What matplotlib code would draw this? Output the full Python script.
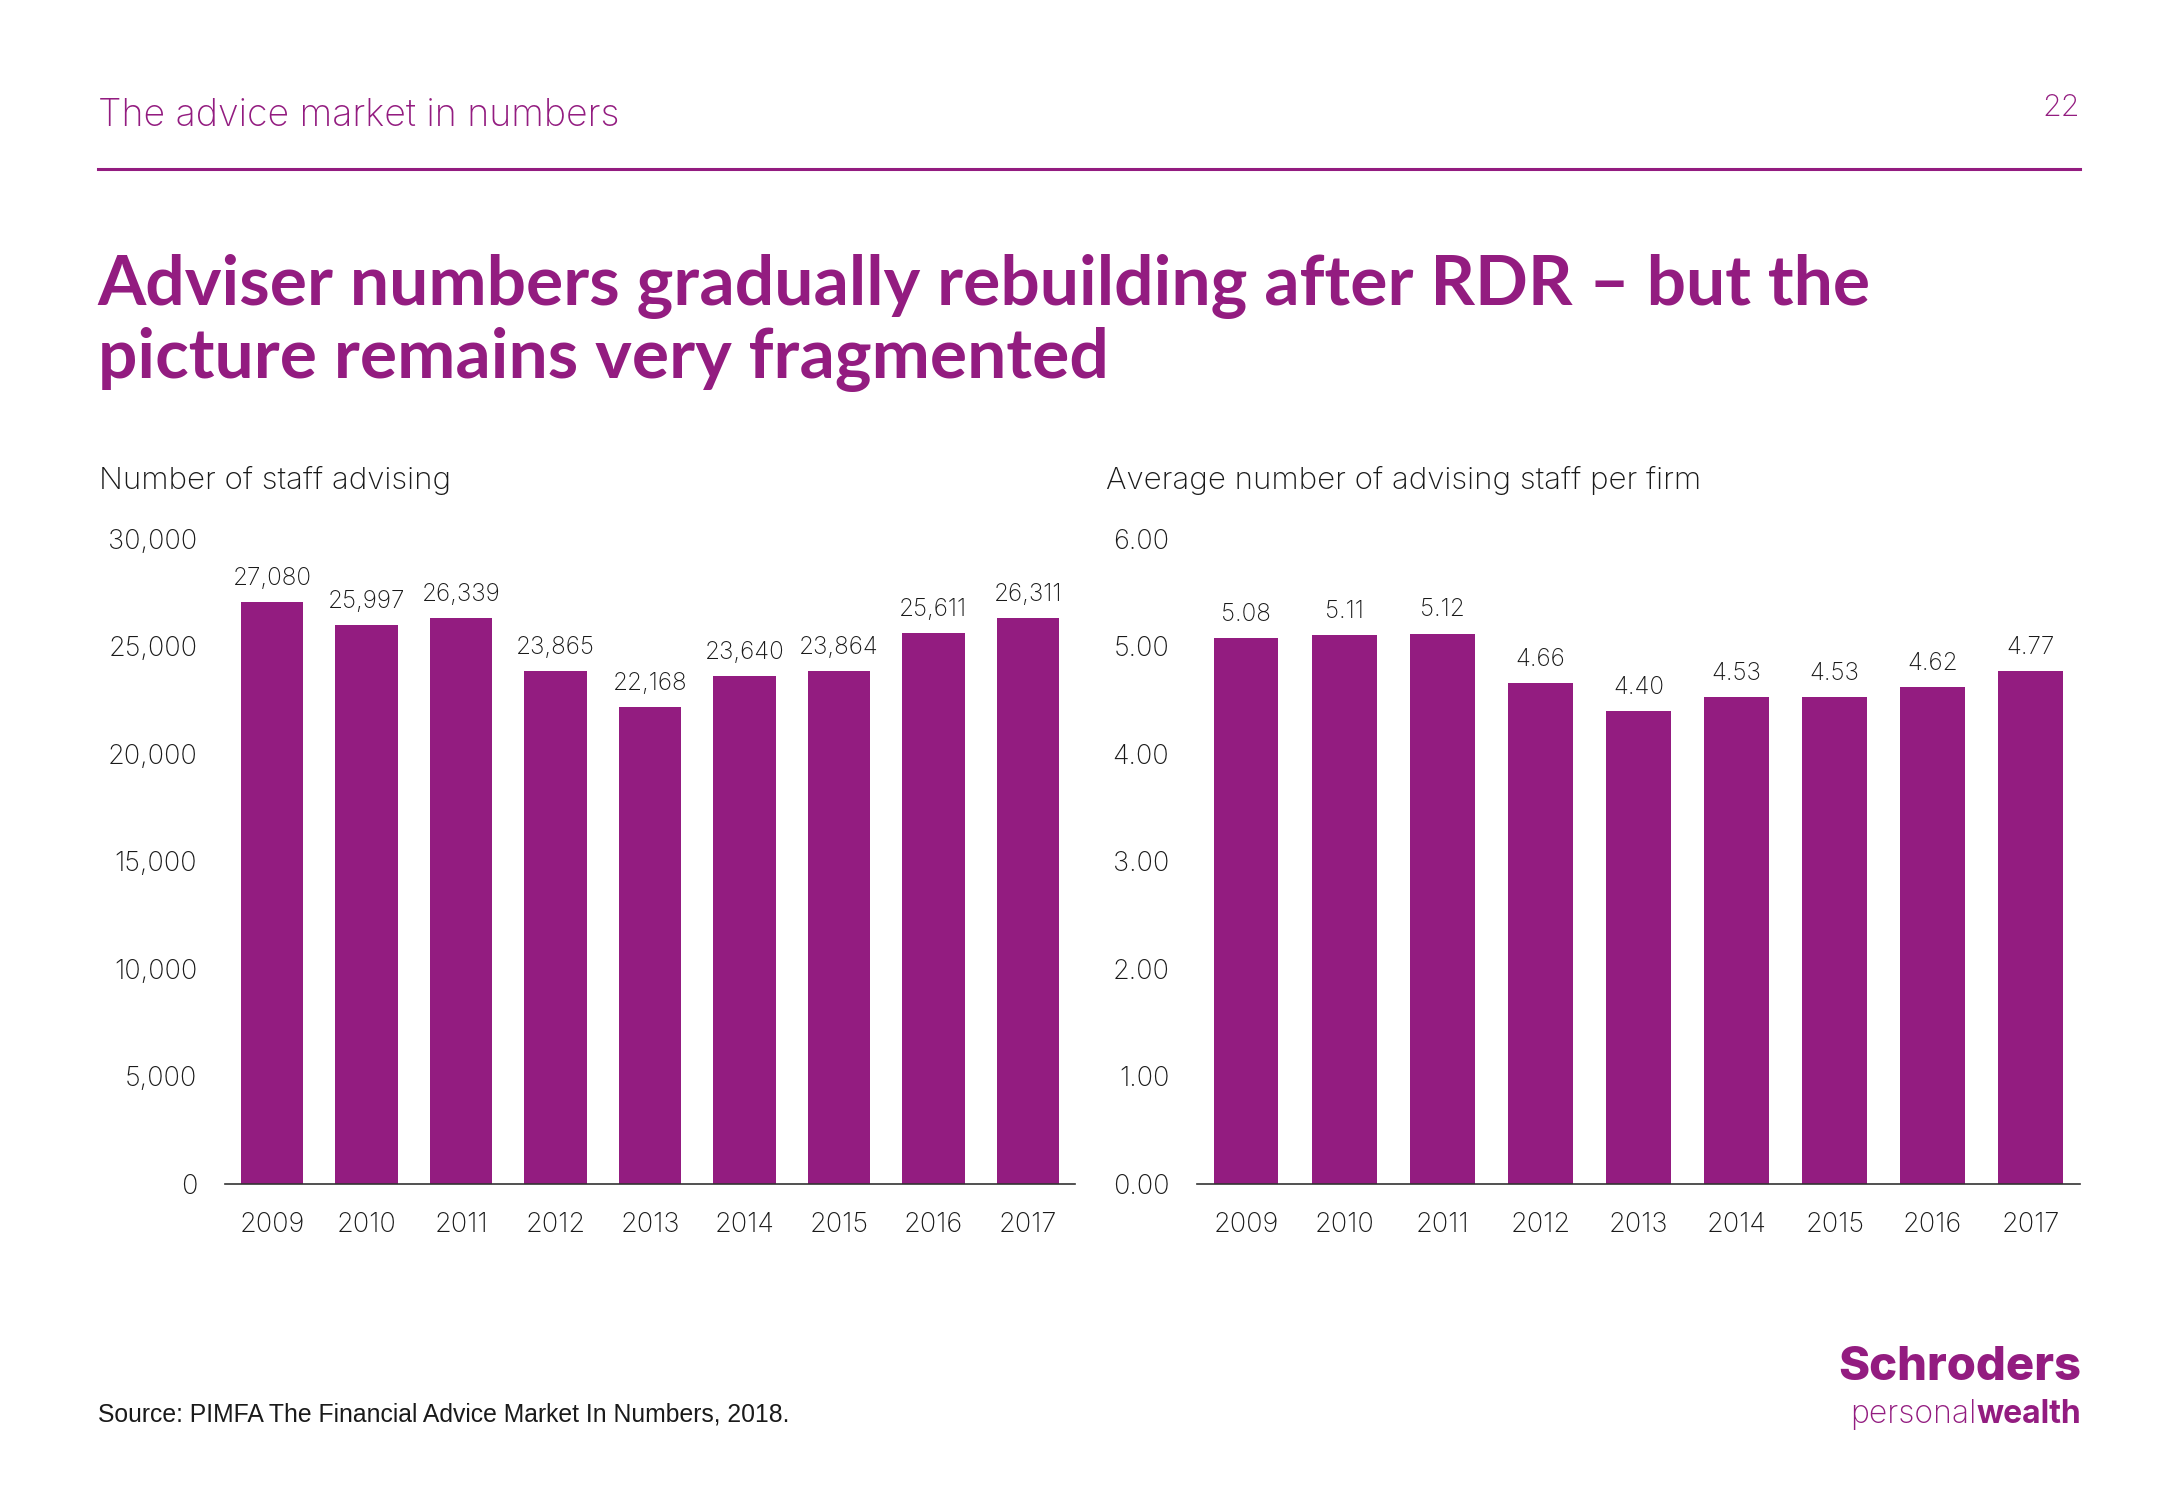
import numpy as np
import matplotlib.pyplot as plt
from matplotlib.ticker import FuncFormatter

plt.rcParams['font.family'] = ['Inter', 'DejaVu Sans']
plt.rcParams['font.weight'] = 'light'

# data
years = ['2009', '2010', '2011', '2012', '2013', '2014', '2015', '2016', '2017']
staff = [27080, 25997, 26339, 23865, 22168, 23640, 23864, 25611, 26311]
per_firm = [5.08, 5.11, 5.12, 4.66, 4.40, 4.53, 4.53, 4.62, 4.77]

purple = '#931C80'
txt = '#1a1a1a'

fig = plt.figure(figsize=(21.67, 15), dpi=100)

# header
fig.text(0.045, 0.923, 'The advice market in numbers', color=purple, fontsize=27,
         va='center', ha='left')
fig.text(0.96, 0.928, '22', color=purple, fontsize=22, va='center', ha='right')
fig.add_artist(plt.Line2D([0.045, 0.96], [0.8875, 0.8875], color=purple, lw=2.2))

fig.text(0.045, 0.7845, 'Adviser numbers gradually rebuilding after RDR \u2013 but the\npicture remains very fragmented',
         color=purple, fontsize=50, fontweight='bold', va='center', ha='left',
         linespacing=1.15, family=['Lato', 'DejaVu Sans'])

fig.text(0.0457, 0.68, 'Number of staff advising', color=txt, fontsize=22.5, va='center')
fig.text(0.5105, 0.68, 'Average number of advising staff per firm', color=txt, fontsize=22.5, va='center')


def style(ax):
    for s in ['top', 'right', 'left']:
        ax.spines[s].set_visible(False)
    ax.spines['bottom'].set_color('#333333')
    ax.spines['bottom'].set_linewidth(1.2)
    ax.tick_params(axis='both', length=0, labelsize=19.5, labelcolor=txt)
    ax.tick_params(axis='y', pad=20)
    ax.tick_params(axis='x', pad=20)
    ax.set_xlim(-0.5, len(years) - 0.5)


x = np.arange(len(years))

ax1 = fig.add_axes([0.1038, 0.2107, 0.3923, 0.43])
ax1.bar(x, staff, width=0.66, color=purple)
ax1.set_ylim(0, 30000)
ax1.set_yticks(np.arange(0, 30001, 5000))
ax1.yaxis.set_major_formatter(FuncFormatter(lambda v, p: f'{int(v):,}'))
ax1.set_xticks(x)
ax1.set_xticklabels(years)
style(ax1)
for i, v in enumerate(staff):
    ax1.annotate(f'{v:,}', (i, v), xytext=(0, 17), textcoords='offset points',
                 ha='center', va='center', fontsize=17.5, color=txt)

ax2 = fig.add_axes([0.5524, 0.2107, 0.4074, 0.43])
ax2.bar(x, per_firm, width=0.66, color=purple)
ax2.set_ylim(0, 6)
ax2.set_yticks(np.arange(0, 6.01, 1))
ax2.yaxis.set_major_formatter(FuncFormatter(lambda v, p: f'{v:.2f}'))
ax2.set_xticks(x)
ax2.set_xticklabels(years)
style(ax2)
for i, v in enumerate(per_firm):
    ax2.annotate(f'{v:.2f}', (i, v), xytext=(0, 17), textcoords='offset points',
                 ha='center', va='center', fontsize=17.5, color=txt)

# footer
fig.text(0.045, 0.057, 'Source: PIMFA The Financial Advice Market In Numbers, 2018.',
         color=txt, fontsize=17.8, va='center', family=['Liberation Sans', 'DejaVu Sans'],
         fontweight='normal')

fig.text(0.9605, 0.088, 'Schroders', color=purple, fontsize=34, fontweight='heavy',
         va='center', ha='right')
w = fig.text(0.9605, 0.057, 'wealth', color=purple, fontsize=23, fontweight='bold',
             va='center', ha='right')
r = fig.canvas.get_renderer()
bb = w.get_window_extent(renderer=r)
fig.text(bb.x0 / (fig.get_figwidth() * fig.dpi), 0.057, 'personal', color=purple,
         fontsize=23, va='center', ha='right')

fig.savefig('out.png', dpi=100, facecolor='white')
